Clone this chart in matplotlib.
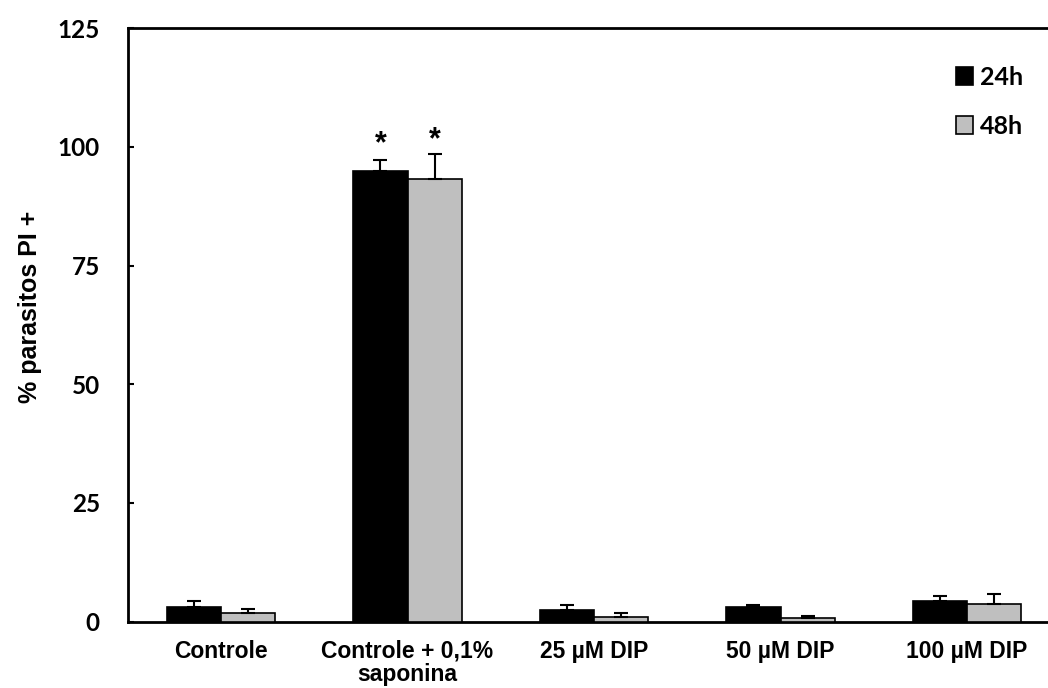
import numpy as np
import matplotlib.pyplot as plt

categories = ["Controle", "Controle + 0,1%\nsaponina", "25 µM DIP", "50 µM DIP", "100 µM DIP"]
mean_24h = [3.0, 94.9, 2.5, 3.0, 4.3]
err_24h = [1.4, 2.3, 1.0, 0.6, 1.0]
mean_48h = [1.8, 93.3, 0.9, 0.7, 3.8]
err_48h = [0.9, 5.3, 0.85, 0.5, 2.0]
significant = [False, True, False, False, False]

x = np.arange(len(categories))
w = 0.29

fig = plt.figure(figsize=(10.48, 6.88), dpi=100)
ax = fig.add_axes([0.1217, 0.0965, 0.8783, 0.8625])

zeros = [0] * len(x)
ax.bar(x - w / 2, mean_24h, w, color='black', edgecolor='black', linewidth=1.2,
       yerr=[zeros, err_24h], error_kw=dict(ecolor='black', elinewidth=1.5, capsize=4.7, capthick=1.5),
       label='24h', zorder=3)
ax.bar(x + w / 2, mean_48h, w, color='#bfbfbf', edgecolor='black', linewidth=1.2,
       yerr=[zeros, err_48h], error_kw=dict(ecolor='black', elinewidth=1.5, capsize=4.7, capthick=1.5),
       label='48h', zorder=3)

# asteriscos
for i, sig in enumerate(significant):
    if sig:
        ax.text(x[i] - w / 2, mean_24h[i] + err_24h[i] + 0.3, '*', ha='center', va='bottom',
                fontsize=22, fontweight='bold', family='Liberation Sans')
        ax.text(x[i] + w / 2, mean_48h[i] + err_48h[i] - 0.3, '*', ha='center', va='bottom',
                fontsize=22, fontweight='bold', family='Liberation Sans')

ax.set_xlim(-0.501, 4.434)
ax.set_ylim(0, 125)
ax.set_yticks([0, 25, 50, 75, 100, 125])
ax.set_xticks(x)
ax.set_xticklabels(categories, fontsize=16.5, fontweight='bold', family='Liberation Sans', linespacing=1.0)
for lab in ax.get_yticklabels():
    lab.set_family('Lato')
    lab.set_fontweight('bold')
    lab.set_fontsize(17.5)

ax.tick_params(axis='x', length=0, pad=13)
ax.tick_params(axis='y', direction='in', length=4, width=1.5, pad=20)

ax.spines['right'].set_visible(False)
for s in ['left', 'bottom', 'top']:
    ax.spines[s].set_linewidth(2)

ax.set_ylabel("% parasitos PI +", fontsize=18, fontweight='bold', family='Liberation Sans')
ax.yaxis.set_label_coords(-0.093, 0.53)

leg = ax.legend(loc='upper right', bbox_to_anchor=(0.997, 0.975), frameon=False,
                prop=dict(family='Lato', weight='bold', size=18),
                handlelength=0.7, handleheight=0.7, handletextpad=0.25, labelspacing=1.05)

plt.savefig("out.png", dpi=100)
